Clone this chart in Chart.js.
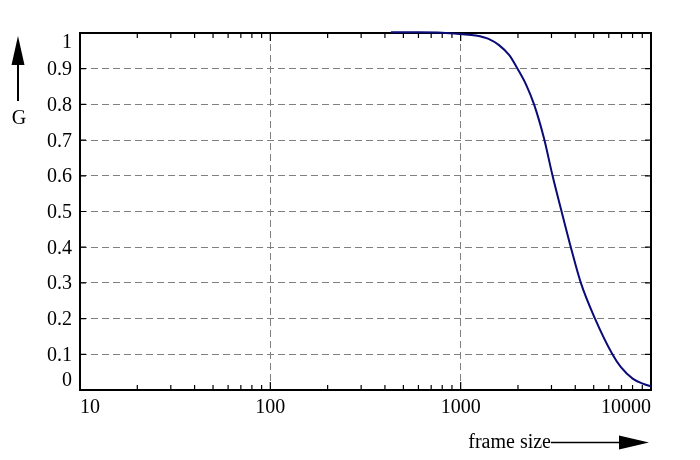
<!DOCTYPE html>
<html>
<head>
<meta charset="utf-8">
<script src="https://cdn.jsdelivr.net/npm/chart.js@4.4.1/dist/chart.umd.min.js"></script>
<style>
  html, body { margin: 0; padding: 0; background: #fff; }
  #wrap { width: 700px; height: 460px; }
</style>
</head>
<body>
<div id="wrap"><canvas id="chart" width="700" height="460"></canvas></div>
<script>
// values
const frameSizes = [430, 600, 800, 1000, 1200, 1410, 1590, 1800, 1990, 2200, 2430, 2740, 3040, 3390, 3790, 4280, 5080, 6270, 6950, 8010, 9050, 10000];
const gValues    = [1.002, 1.002, 1.001, 0.997, 0.993, 0.983, 0.966, 0.938, 0.9, 0.857, 0.8, 0.705, 0.6, 0.5, 0.4, 0.3, 0.2, 0.1, 0.064, 0.032, 0.018, 0.01];

const xMajorTicks = [10, 100, 1000, 10000];
const xTickLabels = ['10', '100', '1000', '10000'];
const xMinorTicks = [20, 30, 40, 50, 60, 70, 80, 90, 200, 300, 400, 500, 600, 700, 800, 900, 2000, 3000, 4000, 5000, 6000, 7000, 8000, 9000];
const xGridValues = [100, 1000];

const yTicks = [0, 0.1, 0.2, 0.3, 0.4, 0.5, 0.6, 0.7, 0.8, 0.9, 1];
const yTickLabels = ['0', '0.1', '0.2', '0.3', '0.4', '0.5', '0.6', '0.7', '0.8', '0.9', '1'];

const FONT = '20px "Liberation Serif", "Times New Roman", serif';

// frame, inward ticks, tick labels and the axis arrows (under the curve)
const framePlugin = {
    id: 'framePlugin',
    beforeDatasetsDraw(chart) {
        const { ctx, chartArea: a, scales: { x, y } } = chart;
        ctx.save();
        ctx.strokeStyle = '#000';
        ctx.lineWidth = 1.2;

        ctx.beginPath();
        xMajorTicks.forEach(v => {
            const px = x.getPixelForValue(v);
            ctx.moveTo(px, a.bottom); ctx.lineTo(px, a.bottom - 8);
            ctx.moveTo(px, a.top); ctx.lineTo(px, a.top + 8);
        });
        xMinorTicks.forEach(v => {
            const px = x.getPixelForValue(v);
            ctx.moveTo(px, a.bottom); ctx.lineTo(px, a.bottom - 5);
            ctx.moveTo(px, a.top); ctx.lineTo(px, a.top + 5);
        });
        yTicks.forEach(v => {
            const py = y.getPixelForValue(v);
            ctx.moveTo(a.left, py); ctx.lineTo(a.left + 6, py);
            ctx.moveTo(a.right, py); ctx.lineTo(a.right - 6, py);
        });
        ctx.stroke();

        ctx.lineWidth = 2;
        ctx.strokeRect(a.left, a.top, a.right - a.left, a.bottom - a.top);

        // tick labels
        ctx.font = FONT;
        ctx.fillStyle = '#000';
        ctx.textBaseline = 'alphabetic';
        xMajorTicks.forEach((v, i) => {
            const px = x.getPixelForValue(v);
            ctx.textAlign = i === 0 ? 'left' : (i === xMajorTicks.length - 1 ? 'right' : 'center');
            ctx.fillText(xTickLabels[i], px, a.bottom + 23);
        });
        ctx.textAlign = 'right';
        yTicks.forEach((v, i) => {
            let py = y.getPixelForValue(v) + 6.5;
            if (i === 0) py = a.bottom - 4;
            if (i === yTicks.length - 1) py = a.top + 15;
            ctx.fillText(yTickLabels[i], a.left - 8, py);
        });

        // y axis arrow + title
        const ax = 18;
        ctx.beginPath();
        ctx.moveTo(ax, a.top + 68); ctx.lineTo(ax, a.top + 28);
        ctx.stroke();
        ctx.beginPath();
        ctx.moveTo(ax, a.top + 3);
        ctx.lineTo(ax + 6.5, a.top + 32);
        ctx.lineTo(ax - 6.5, a.top + 32);
        ctx.closePath();
        ctx.fill();
        ctx.textAlign = 'center';
        ctx.fillText('G', ax + 1, a.top + 91);

        // x axis arrow + title
        const ay = 442.5;
        ctx.textAlign = 'right';
        ctx.fillText('frame size', 551, 448);
        ctx.lineWidth = 1.5;
        ctx.beginPath();
        ctx.moveTo(551, ay); ctx.lineTo(622, ay);
        ctx.stroke();
        ctx.beginPath();
        ctx.moveTo(a.right - 2, ay);
        ctx.lineTo(619, ay - 7);
        ctx.lineTo(619, ay + 7);
        ctx.closePath();
        ctx.fill();

        ctx.restore();
    }
};

new Chart(document.getElementById('chart'), {
    type: 'line',
    data: {
        datasets: [{
            data: frameSizes.map((f, i) => ({ x: f, y: gValues[i] })),
            borderColor: '#0a0a78',
            borderWidth: 2,
            pointRadius: 0,
            fill: false,
            clip: false,
            cubicInterpolationMode: 'monotone'
        }]
    },
    options: {
        responsive: false,
        animation: false,
        devicePixelRatio: 1,
        layout: { padding: { left: 80, right: 49, top: 33, bottom: 70 } },
        plugins: {
            legend: { display: false },
            tooltip: { enabled: false }
        },
        scales: {
            x: {
                type: 'logarithmic',
                min: 10,
                max: 10000,
                afterBuildTicks: scale => {
                    scale.ticks = xMajorTicks.concat(xMinorTicks).sort((p, q) => p - q).map(v => ({ value: v }));
                },
                afterFit: scale => { scale.height = 0; },
                ticks: { display: false },
                border: { display: false, dash: [7, 4] },
                grid: {
                    drawTicks: false,
                    lineWidth: 1,
                    color: c => (c.tick && xGridValues.includes(c.tick.value)) ? '#808080' : 'rgba(0,0,0,0)'
                }
            },
            y: {
                min: 0,
                max: 1,
                afterBuildTicks: scale => {
                    scale.ticks = yTicks.map(v => ({ value: v }));
                },
                afterFit: scale => { scale.width = 0; },
                ticks: { display: false },
                border: { display: false, dash: [7, 4] },
                grid: {
                    drawTicks: false,
                    lineWidth: 1,
                    color: c => (c.tick && c.tick.value > 0 && c.tick.value < 1) ? '#808080' : 'rgba(0,0,0,0)'
                }
            }
        }
    },
    plugins: [framePlugin]
});
</script>
</body>
</html>
